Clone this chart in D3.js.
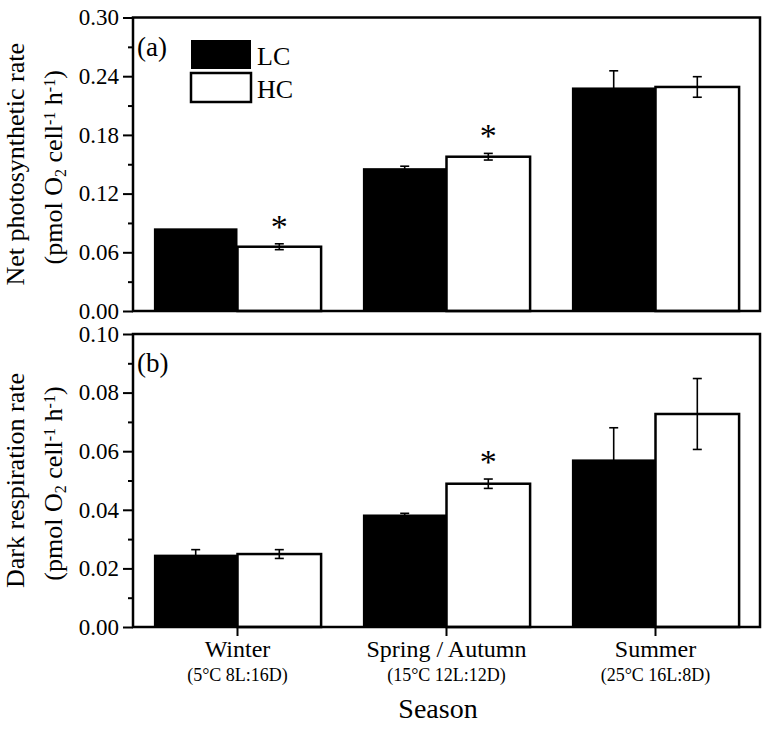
<!DOCTYPE html>
<html>
<head>
<meta charset="utf-8">
<script src="https://cdn.jsdelivr.net/npm/d3@7"></script>
<style>
  body { margin: 0; background: #fff; }
  svg text { font-family: "Liberation Serif", "Times New Roman", serif; fill: #000; }
</style>
</head>
<body>
<svg id="chart" width="777" height="729"></svg>
<script>
// categories
var seasons = ["Winter", "Spring / Autumn", "Summer"];
var conditions = ["(5\u00B0C 8L:16D)", "(15\u00B0C 12L:12D)", "(25\u00B0C 16L:8D)"];
var groups = ["LC", "HC"];

// (a) net photosynthetic rate
var netLC = [0.0845, 0.146, 0.2285];
var netLCErr = [0, 0.002, 0.017];
var netHC = [0.0657, 0.1577, 0.229];
var netHCErr = [0.003, 0.0034, 0.0105];
var netStar = [true, true, false];

// (b) dark respiration rate
var darkLC = [0.0247, 0.0384, 0.0572];
var darkLCErr = [0.0017, 0.0004, 0.0108];
var darkHC = [0.0249, 0.0489, 0.0727];
var darkHCErr = [0.0015, 0.0016, 0.0121];
var darkStar = [false, true, false];

var netTicks = [0, 0.06, 0.12, 0.18, 0.24, 0.30];
var darkTicks = [0, 0.02, 0.04, 0.06, 0.08, 0.10];

var svg = d3.select("#chart");

var left = 133, right = 760;

var x0 = d3.scaleBand()
    .domain(seasons)
    .range([left, right])
    .paddingInner(0.2)
    .paddingOuter(0.1);

var x1 = d3.scaleBand()
    .domain(groups)
    .range([0, x0.bandwidth()]);

function cx(d) { return x0(d.season) + x1(d.key) + x1.bandwidth() / 2; }

function errorBars(g, data, y, lowerCap) {
  var eb = g.append("g").selectAll("g")
    .data(data)
    .enter().append("g")
      .attr("stroke", "#000")
      .attr("stroke-width", 1.6);
  eb.append("line")
      .attr("x1", cx).attr("x2", cx)
      .attr("y1", function(d) { return y(d.value - d.err); })
      .attr("y2", function(d) { return y(d.value + d.err); });
  eb.append("line")
      .attr("x1", function(d) { return cx(d) - 4.5; })
      .attr("x2", function(d) { return cx(d) + 4.5; })
      .attr("y1", function(d) { return y(d.value + d.err); })
      .attr("y2", function(d) { return y(d.value + d.err); });
  if (lowerCap) {
    eb.append("line")
        .attr("x1", function(d) { return cx(d) - 4.5; })
        .attr("x2", function(d) { return cx(d) + 4.5; })
        .attr("y1", function(d) { return y(d.value - d.err); })
        .attr("y2", function(d) { return y(d.value - d.err); });
  }
}

function drawPanel(opt) {
  var y = d3.scaleLinear().domain([0, opt.max]).range([opt.bottom, opt.top]);
  var g = svg.append("g");

  var flat = [];
  seasons.forEach(function(s, i) {
    flat.push({season: s, key: "LC", value: opt.lc[i], err: opt.lcErr[i], star: false});
    flat.push({season: s, key: "HC", value: opt.hc[i], err: opt.hcErr[i], star: opt.star[i]});
  });

  // LC error bars go under the black bars, so only the upper half shows
  errorBars(g, flat.filter(function(d) { return d.err > 0 && d.key == "LC"; }), y, false);

  g.append("g").selectAll("rect")
    .data(flat)
    .enter().append("rect")
      .attr("x", function(d) { return x0(d.season) + x1(d.key); })
      .attr("y", function(d) { return y(d.value); })
      .attr("width", x1.bandwidth())
      .attr("height", function(d) { return y(0) - y(d.value); })
      .attr("fill", function(d) { return d.key == "LC" ? "#000" : "#fff"; })
      .attr("stroke", "#000")
      .attr("stroke-width", function(d) { return d.key == "LC" ? 0 : 2.5; });

  errorBars(g, flat.filter(function(d) { return d.err > 0 && d.key == "HC"; }), y, true);

  // significance stars
  g.append("g").selectAll("text")
    .data(flat.filter(function(d) { return d.star; }))
    .enter().append("text")
      .attr("x", cx)
      .attr("y", function(d) { return y(d.value + d.err) - 6; })
      .attr("text-anchor", "middle")
      .style("font-size", "34px")
      .text("*");

  // frame
  g.append("rect")
      .attr("x", left).attr("y", opt.top)
      .attr("width", right - left).attr("height", opt.bottom - opt.top)
      .attr("fill", "none").attr("stroke", "#000").attr("stroke-width", 2.5);

  // y axis major + minor ticks
  var minor = [];
  for (var i = 0; i < opt.ticks.length - 1; i++) minor.push((opt.ticks[i] + opt.ticks[i + 1]) / 2);

  var ax = g.append("g")
      .attr("transform", "translate(" + left + ",0)")
      .call(d3.axisLeft(y).tickValues(opt.ticks).tickSize(10).tickPadding(4).tickFormat(d3.format(".2f")));
  ax.select(".domain").remove();
  ax.selectAll(".tick line").attr("stroke-width", 2);
  ax.selectAll(".tick text").style("font-size", "23px");

  var axm = g.append("g")
      .attr("transform", "translate(" + left + ",0)")
      .call(d3.axisLeft(y).tickValues(minor).tickSize(5).tickFormat(""));
  axm.select(".domain").remove();
  axm.selectAll(".tick line").attr("stroke-width", 2);

  // panel letter
  g.append("text")
      .attr("x", 137)
      .attr("y", opt.top + 38)
      .style("font-size", "27px")
      .text(opt.letter);

  // y label (two lines)
  var cy = (opt.top + opt.bottom) / 2;
  g.append("text")
      .attr("transform", "rotate(-90)")
      .attr("x", -cy)
      .attr("y", 24)
      .attr("text-anchor", "middle")
      .style("font-size", "26px")
      .text(opt.label);

  var l2 = g.append("text")
      .attr("transform", "rotate(-90)")
      .attr("x", -cy - 3)
      .attr("y", 62)
      .attr("text-anchor", "middle")
      .style("font-size", "26px");
  l2.append("tspan").text("(pmol O");
  l2.append("tspan").attr("baseline-shift", "-25%").style("font-size", "16px").text("2");
  l2.append("tspan").text(" cell");
  l2.append("tspan").attr("baseline-shift", "45%").style("font-size", "16px").text("-1");
  l2.append("tspan").text(" h");
  l2.append("tspan").attr("baseline-shift", "45%").style("font-size", "16px").text("-1");
  l2.append("tspan").text(")");

  return y;
}

drawPanel({
  top: 17.5, bottom: 311, max: 0.30,
  lc: netLC, lcErr: netLCErr, hc: netHC, hcErr: netHCErr, star: netStar,
  ticks: netTicks, letter: "(a)", label: "Net photosynthetic rate"
});

drawPanel({
  top: 334, bottom: 627, max: 0.10,
  lc: darkLC, lcErr: darkLCErr, hc: darkHC, hcErr: darkHCErr, star: darkStar,
  ticks: darkTicks, letter: "(b)", label: "Dark respiration rate"
});

// x axis of bottom panel
var xa = svg.append("g")
    .attr("transform", "translate(0,627)")
    .call(d3.axisBottom(x0).tickSize(9).tickFormat(""));
xa.select(".domain").remove();
xa.selectAll(".tick line").attr("stroke-width", 2);

svg.append("g").selectAll("text")
  .data(seasons)
  .enter().append("text")
    .attr("x", function(d) { return x0(d) + x0.bandwidth() / 2; })
    .attr("y", 657)
    .attr("text-anchor", "middle")
    .style("font-size", "24px")
    .text(function(d) { return d; });

svg.append("g").selectAll("text")
  .data(conditions)
  .enter().append("text")
    .attr("x", function(d, i) { return x0(seasons[i]) + x0.bandwidth() / 2; })
    .attr("y", 681)
    .attr("text-anchor", "middle")
    .style("font-size", "18px")
    .text(function(d) { return d; });

svg.append("text")
    .attr("x", 438)
    .attr("y", 718)
    .attr("text-anchor", "middle")
    .style("font-size", "28px")
    .text("Season");

// legend
var legend = svg.append("g")
  .selectAll("g")
  .data(groups)
  .enter().append("g")
    .attr("transform", function(d, i) { return "translate(191," + (40 + i * 33) + ")"; });

legend.append("rect")
    .attr("width", 60)
    .attr("height", 29)
    .attr("fill", function(d) { return d == "LC" ? "#000" : "#fff"; })
    .attr("stroke", "#000")
    .attr("stroke-width", function(d) { return d == "LC" ? 0 : 2.5; });

legend.append("text")
    .attr("x", 66)
    .attr("y", 25)
    .style("font-size", "26px")
    .text(function(d) { return d; });
</script>
</body>
</html>
